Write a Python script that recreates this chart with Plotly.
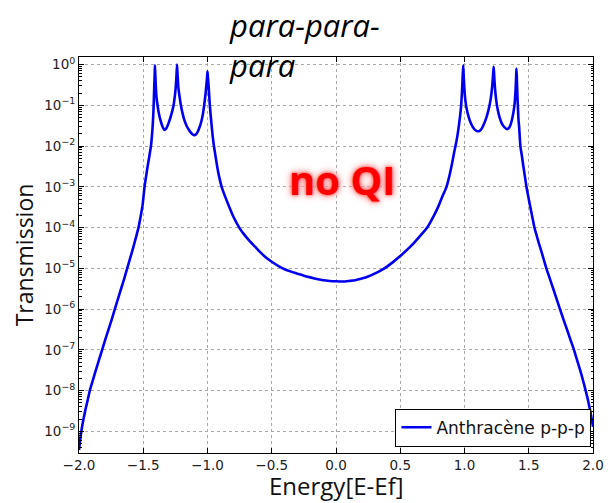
import plotly.graph_objects as go

# Transmission spectrum of anthracene, para-para-para contacts
energy = [
    -2.000, -1.990, -1.980, -1.965, -1.950, -1.930, -1.916, -1.890, -1.870, -1.845,
    -1.820, -1.795, -1.770, -1.745, -1.721, -1.695, -1.672, -1.648, -1.625, -1.600,
    -1.575, -1.555, -1.537, -1.520, -1.505, -1.490, -1.478, -1.465, -1.452, -1.440,
    -1.433, -1.427, -1.423, -1.419, -1.415, -1.411, -1.409, -1.406, -1.402, -1.397,
    -1.389, -1.378, -1.365, -1.352, -1.343, -1.336, -1.328, -1.318, -1.305, -1.292,
    -1.278, -1.264, -1.255, -1.248, -1.242, -1.237, -1.232, -1.226, -1.217, -1.207,
    -1.195, -1.180, -1.162, -1.145, -1.128, -1.115, -1.104, -1.092, -1.078, -1.062,
    -1.048, -1.036, -1.026, -1.016, -1.008, -1.003, -1.000, -0.995, -0.990, -0.982,
    -0.975, -0.968, -0.960, -0.950, -0.940, -0.925, -0.910, -0.890, -0.870, -0.840,
    -0.800, -0.753, -0.720, -0.680, -0.630, -0.590, -0.550, -0.500, -0.450, -0.400,
    -0.350, -0.300, -0.250, -0.200, -0.150, -0.100, -0.050, 0.000, 0.050, 0.100,
    0.150, 0.200, 0.250, 0.300, 0.350, 0.400, 0.450, 0.500, 0.550, 0.600,
    0.650, 0.710, 0.760, 0.800, 0.830, 0.860, 0.885, 0.905, 0.920, 0.930,
    0.945, 0.958, 0.967, 0.974, 0.980, 0.985, 0.990, 0.994, 0.999, 1.006,
    1.016, 1.030, 1.048, 1.068, 1.088, 1.104, 1.118, 1.135, 1.152, 1.170,
    1.186, 1.200, 1.210, 1.218, 1.223, 1.227, 1.231, 1.237, 1.246, 1.258,
    1.272, 1.290, 1.310, 1.331, 1.350, 1.366, 1.380, 1.390, 1.396, 1.401,
    1.404, 1.407, 1.411, 1.416, 1.420, 1.425, 1.435, 1.447, 1.458, 1.470,
    1.482, 1.497, 1.512, 1.528, 1.544, 1.562, 1.580, 1.600, 1.618, 1.637,
    1.664, 1.690, 1.716, 1.743, 1.770, 1.797, 1.824, 1.852, 1.876, 1.900,
    1.922, 1.943, 1.960, 1.975, 1.988, 2.000,
]
transmission = [
    3.5e-10, 6.5e-10, 1.1e-9, 2.0e-9, 3.4e-9, 6.3e-9, 1.0e-8, 1.9e-8, 3.1e-8, 5.6e-8,
    1.0e-7, 1.8e-7, 3.2e-7, 5.6e-7, 1.0e-6, 1.85e-6, 3.2e-6, 5.6e-6, 1.0e-5, 1.85e-5,
    3.5e-5, 6.0e-5, 1.0e-4, 1.9e-4, 3.6e-4, 1.0e-3, 1.8e-3, 3.3e-3, 5.8e-3, 1.0e-2,
    1.7e-2, 3.0e-2, 5.0e-2, 0.10, 0.25, 0.60, 0.95, 0.55, 0.28, 0.16,
    0.10, 0.062, 0.042, 0.031, 0.027, 0.025, 0.0255, 0.028, 0.035, 0.046,
    0.065, 0.10, 0.16, 0.26, 0.50, 1.00, 0.50, 0.26, 0.16, 0.10,
    0.065, 0.043, 0.031, 0.025, 0.021, 0.0192, 0.0185, 0.019, 0.022, 0.029,
    0.040, 0.060, 0.10, 0.18, 0.33, 0.50, 0.68, 0.42, 0.25, 0.10,
    0.056, 0.032, 0.018, 1.0e-2, 6.3e-3, 3.2e-3, 1.8e-3, 1.0e-3, 6.6e-4, 3.8e-4,
    1.9e-4, 1.0e-4, 7.1e-5, 5.0e-5, 3.4e-5, 2.5e-5, 1.9e-5, 1.45e-5, 1.15e-5, 9.5e-6,
    8.3e-6, 7.4e-6, 6.6e-6, 6.0e-6, 5.5e-6, 5.1e-6, 4.9e-6, 4.8e-6, 4.75e-6, 4.9e-6,
    5.1e-6, 5.6e-6, 6.3e-6, 7.4e-6, 8.9e-6, 1.12e-5, 1.48e-5, 2.0e-5, 2.8e-5, 4.0e-5,
    6.0e-5, 1.0e-4, 1.9e-4, 3.5e-4, 6.0e-4, 1.0e-3, 2.0e-3, 4.0e-3, 7.1e-3, 1.0e-2,
    1.8e-2, 3.5e-2, 0.060, 0.10, 0.20, 0.45, 0.95, 0.50, 0.26, 0.14,
    0.085, 0.055, 0.037, 0.028, 0.024, 0.023, 0.0235, 0.027, 0.035, 0.050,
    0.075, 0.12, 0.20, 0.36, 0.60, 0.88, 0.55, 0.27, 0.14, 0.08,
    0.052, 0.036, 0.029, 0.026, 0.029, 0.040, 0.065, 0.11, 0.20, 0.42,
    0.80, 0.50, 0.20, 0.085, 0.045, 0.030, 1.0e-2, 5.6e-3, 3.2e-3, 1.8e-3,
    1.0e-3, 5.6e-4, 3.2e-4, 1.8e-4, 1.0e-4, 6.3e-5, 4.0e-5, 2.5e-5, 1.6e-5, 1.0e-5,
    5.6e-6, 3.2e-6, 1.8e-6, 1.0e-6, 5.6e-7, 3.2e-7, 1.8e-7, 1.0e-7, 5.6e-8, 3.2e-8,
    1.8e-8, 1.0e-8, 6.0e-9, 3.6e-9, 2.2e-9, 1.3e-9,
]

x_ticks = [-2.0, -1.5, -1.0, -0.5, 0.0, 0.5, 1.0, 1.5, 2.0]
x_tick_labels = ["\u22122.0", "\u22121.5", "\u22121.0", "\u22120.5", "0.0", "0.5", "1.0", "1.5", "2.0"]
y_exponents = [0, -1, -2, -3, -4, -5, -6, -7, -8, -9]
y_ticks = [10.0 ** e for e in y_exponents]
y_tick_labels = ["10<sup>%s</sup>" % str(e).replace("-", "\u2212") for e in y_exponents]
y_minor = [m * 10.0 ** e for e in range(-10, 1) for m in range(2, 10)]

fig = go.Figure()
fig.add_trace(go.Scatter(
    x=energy, y=transmission, mode="lines", name="Anthrac\u00e8ne p-p-p",
    line=dict(color="#0000ee", width=2.6, shape="spline", smoothing=0.6),
))

grid = dict(showgrid=True, gridcolor="#aaaaaa", gridwidth=1, griddash="dot")
tick_font = dict(family="DejaVu Sans", size=13.5, color="#222222")

fig.update_layout(
    width=608, height=503,
    margin=dict(l=79, r=15, t=57, b=50, autoexpand=False),
    paper_bgcolor="white", plot_bgcolor="white",
    xaxis=dict(
        range=[-2, 2], tickvals=x_ticks, ticktext=x_tick_labels,
        ticks="inside", ticklen=5, tickcolor="black", automargin=False,
        showline=True, linecolor="black", linewidth=1, mirror="ticks",
        tickfont=tick_font, zeroline=False,
        **grid,
    ),
    yaxis=dict(
        type="log", range=[-9.53, 0.184], tickvals=y_ticks, ticktext=y_tick_labels,
        ticks="inside", ticklen=5, tickcolor="black", automargin=False,
        showline=True, linecolor="black", linewidth=1, mirror="ticks",
        tickfont=tick_font, zeroline=False,
        minor=dict(tickvals=y_minor, ticks="inside", ticklen=2.5, tickcolor="black", showgrid=False),
        title=dict(text="Transmission", standoff=4,
                   font=dict(family="Open Sans", size=23, color="#111111")),
        **grid,
    ),
    legend=dict(
        x=0.997, y=0.016, xanchor="right", yanchor="bottom",
        bordercolor="black", borderwidth=1, bgcolor="white",
        font=dict(family="DejaVu Sans", size=17, color="#111111"),
    ),
    showlegend=True,
    annotations=[
        dict(
            text="<i>para-para-<br>para</i>", x=(227 - 79) / 514, y=(453.3 - 2) / 396.3,
            xref="paper", yref="paper", xanchor="left", yanchor="top", align="left",
            showarrow=False,
            font=dict(family="Open Sans", size=31, color="black"),
        ),
        dict(
            text="Energy[E-Ef]", x=0.5, y=(453.3 - 486) / 396.3,
            xref="paper", yref="paper", xanchor="center", yanchor="middle",
            showarrow=False,
            font=dict(family="Open Sans", size=24, color="#111111"),
        ),
        dict(
            text="<b>no QI</b>", x=0.05, y=-2.82, xref="x", yref="y",
            showarrow=False, xanchor="center", yanchor="middle",
            font=dict(family="Open Sans", size=40, color="#ff0000",
                      shadow="0px 0px 3px #ff4040, 0px 0px 6px #ff8080, 0px 0px 10px #ffb0b0"),
        ),
    ],
)

fig.write_html("out.html")
